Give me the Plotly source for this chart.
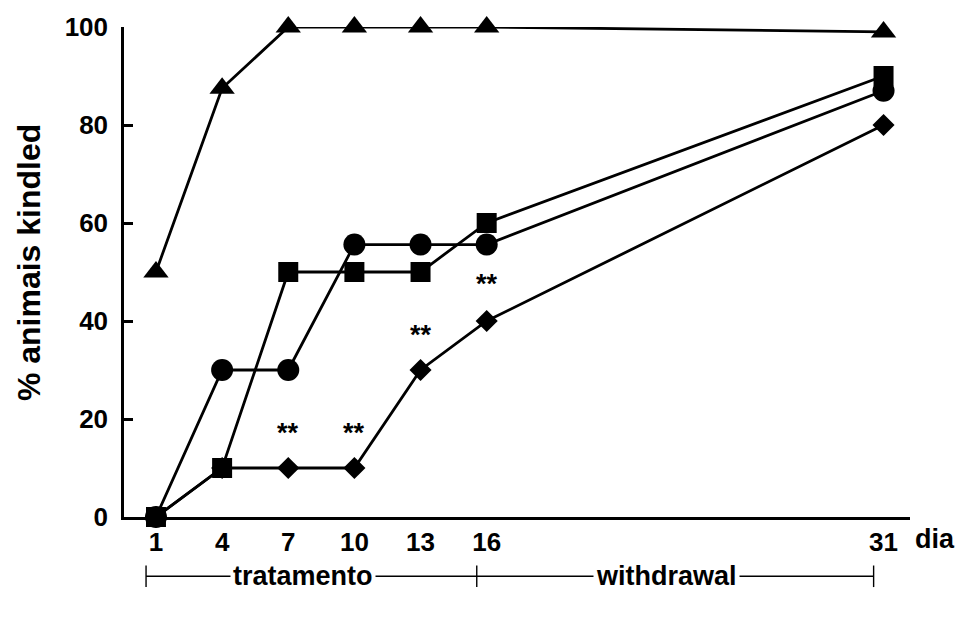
import plotly.graph_objects as go

# Days of observation and % of animals kindled per group
days = [1, 4, 7, 10, 13, 16, 31]
day_labels = ["1", "4", "7", "10", "13", "16", "31"]

kindled_triangle = [50, 87.5, 100, 100, 100, 100, 99]
kindled_circle = [0, 30, 30, 55.6, 55.6, 55.6, 87]
kindled_square = [0, 10, 50, 50, 50, 60, 90]
kindled_diamond = [0, 10, 10, 10, 30, 40, 80]

# Significance marks (day, % level)
signif_days = [7, 10, 13, 16]
signif_levels = [17.2, 17.2, 37.2, 47.5]
signif_text = "**"

# Periods shown under the day axis
periods = ["tratamento", "withdrawal"]
period_bounds = [1, 16, 31]

TREATMENT_END = 16
WITHDRAWAL_STRETCH = 1.2
FONT = "Liberation Sans"


def to_axis(day):
    """Axis coordinate of a day; the withdrawal span is drawn slightly wider."""
    if day <= TREATMENT_END:
        return day
    return TREATMENT_END + (day - TREATMENT_END) * WITHDRAWAL_STRETCH


xs = [to_axis(d) for d in days]

fig = go.Figure()

series = [
    (kindled_triangle, "triangle-up", 22),
    (kindled_square, "square", 20),
    (kindled_circle, "circle", 22),
    (kindled_diamond, "diamond", 17),
]
for values, symbol, size in series:
    fig.add_trace(go.Scatter(
        x=xs, y=values, mode="lines+markers",
        line=dict(color="black", width=2.8),
        marker=dict(symbol=symbol, size=size, color="black", line=dict(width=0)),
        cliponaxis=False, showlegend=False,
    ))

for d, lvl in zip(signif_days, signif_levels):
    fig.add_annotation(
        x=to_axis(d), y=lvl, text=signif_text, showarrow=False,
        font=dict(family=FONT, size=27, color="black", weight="bold"),
        yanchor="middle",
    )

# "dia" label at the end of the day axis
fig.add_annotation(
    xref="paper", yref="paper", x=1.032, y=-0.045, text="dia",
    showarrow=False, xanchor="center", yanchor="middle",
    font=dict(family=FONT, size=27, color="black", weight="bold"),
)

# Period bracket under the axis
bracket_y = -0.121
tick_h = 0.022
offset = 0.45
bx = [to_axis(b) - offset for b in period_bounds]
fig.add_shape(type="line", xref="x", yref="paper", x0=bx[0], x1=bx[-1],
              y0=bracket_y, y1=bracket_y, line=dict(color="black", width=1.4))
for b in bx:
    fig.add_shape(type="line", xref="x", yref="paper", x0=b, x1=b,
                  y0=bracket_y - tick_h, y1=bracket_y + tick_h,
                  line=dict(color="black", width=1.4))
for name, a, b in zip(periods, bx[:-1], bx[1:]):
    fig.add_annotation(
        xref="x", yref="paper", x=(a + b) / 2 - 0.4, y=bracket_y, text=name,
        showarrow=False, xanchor="center", yanchor="middle",
        bgcolor="white", borderpad=2,
        font=dict(family=FONT, size=27, color="black", weight="bold"),
    )

# Y axis title
fig.add_annotation(
    xref="paper", yref="paper", x=-0.121, y=0.52, text="% animais kindled",
    textangle=-90, showarrow=False, xanchor="center", yanchor="middle",
    font=dict(family=FONT, size=32, color="black", weight="bold"),
)

fig.update_layout(
    width=957, height=618,
    margin=dict(l=124, r=47, t=21, b=101),
    paper_bgcolor="white", plot_bgcolor="white",
    font=dict(family=FONT, color="black"),
)
fig.update_xaxes(
    range=[-0.45, 35.2], tickmode="array", tickvals=xs, ticktext=day_labels,
    showline=True, linecolor="black", linewidth=2.5, showgrid=False,
    zeroline=False, ticks="", ticklabelstandoff=0,
    tickfont=dict(family=FONT, size=26, color="black", weight="bold"),
)
fig.update_yaxes(
    range=[0, 100], tickmode="array", tickvals=[0, 20, 40, 60, 80, 100],
    showline=True, linecolor="black", linewidth=2.5, showgrid=False,
    zeroline=False, ticks="inside", ticklen=9, tickwidth=2.5, tickcolor="black",
    ticklabelstandoff=8,
    tickfont=dict(family=FONT, size=26, color="black", weight="bold"),
)

fig.write_html("out.html")
